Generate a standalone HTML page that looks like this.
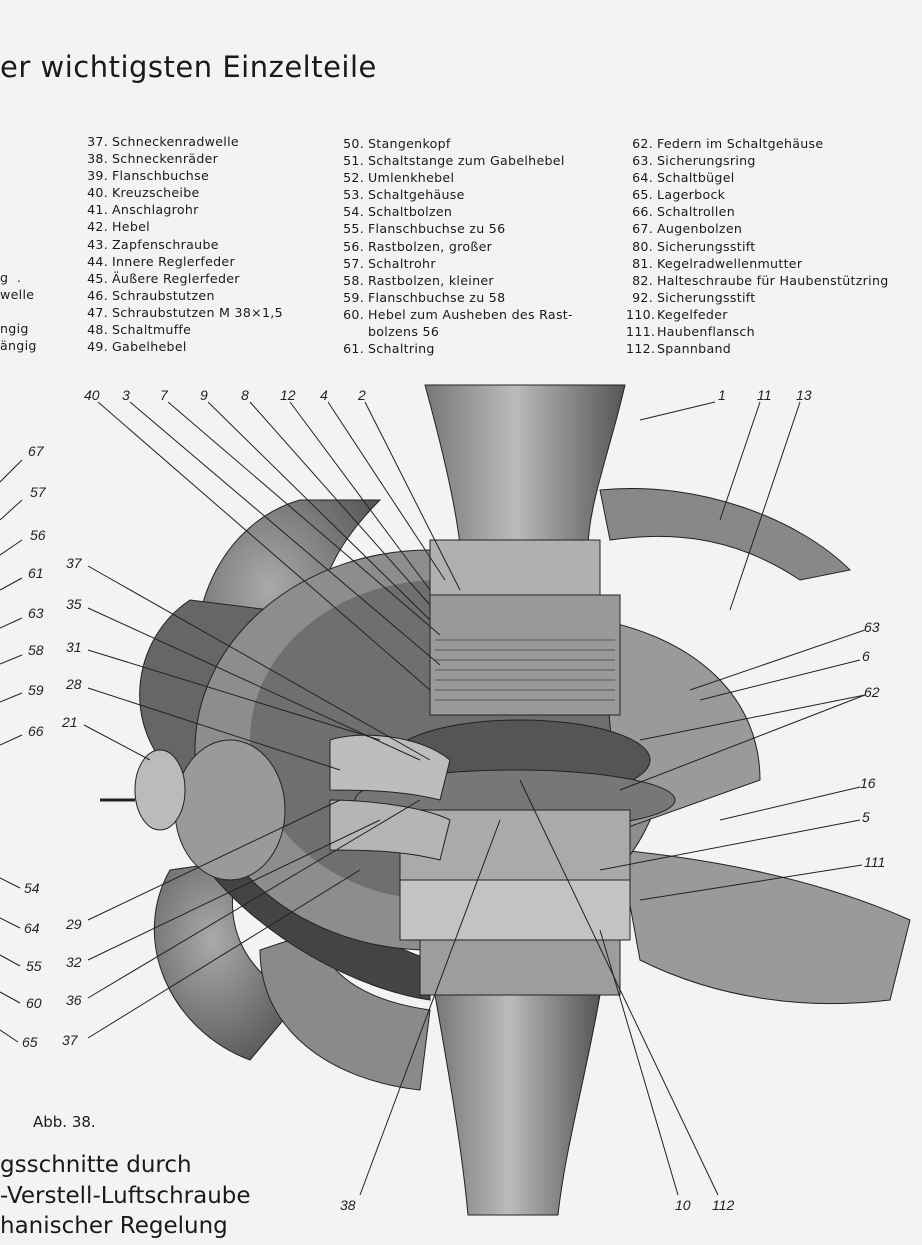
<!DOCTYPE html>
<html><head><meta charset="utf-8"><style>
body{margin:0;width:922px;height:1245px;background:#f3f3f1;overflow:hidden;position:relative;font-family:"DejaVu Sans","Liberation Sans",sans-serif;color:#1a1a1a}
.t{position:absolute;white-space:nowrap}
.col{position:absolute;font-size:12.6px;line-height:17.1px;letter-spacing:0.3px}
.col div{white-space:nowrap}
.n{display:inline-block;text-align:right;width:22px;margin-right:4px}
.c3 .n{width:27px}
svg{position:absolute;left:0;top:0}
.lb{font-family:"Liberation Sans",sans-serif;font-style:italic;font-size:14px;fill:#222}
</style></head><body>
<div class="t" style="left:0;top:50px;font-size:29px;letter-spacing:0.5px">er wichtigsten Einzelteile</div>

<div class="col" style="left:86px;top:133px">
<div><span class="n">37.</span>Schneckenradwelle</div>
<div><span class="n">38.</span>Schneckenräder</div>
<div><span class="n">39.</span>Flanschbuchse</div>
<div><span class="n">40.</span>Kreuzscheibe</div>
<div><span class="n">41.</span>Anschlagrohr</div>
<div><span class="n">42.</span>Hebel</div>
<div><span class="n">43.</span>Zapfenschraube</div>
<div><span class="n">44.</span>Innere Reglerfeder</div>
<div><span class="n">45.</span>Äußere Reglerfeder</div>
<div><span class="n">46.</span>Schraubstutzen</div>
<div><span class="n">47.</span>Schraubstutzen M 38×1,5</div>
<div><span class="n">48.</span>Schaltmuffe</div>
<div><span class="n">49.</span>Gabelhebel</div>
</div>
<div class="col" style="left:342px;top:135px">
<div><span class="n">50.</span>Stangenkopf</div>
<div><span class="n">51.</span>Schaltstange zum Gabelhebel</div>
<div><span class="n">52.</span>Umlenkhebel</div>
<div><span class="n">53.</span>Schaltgehäuse</div>
<div><span class="n">54.</span>Schaltbolzen</div>
<div><span class="n">55.</span>Flanschbuchse zu 56</div>
<div><span class="n">56.</span>Rastbolzen, großer</div>
<div><span class="n">57.</span>Schaltrohr</div>
<div><span class="n">58.</span>Rastbolzen, kleiner</div>
<div><span class="n">59.</span>Flanschbuchse zu 58</div>
<div><span class="n">60.</span>Hebel zum Ausheben des Rast-</div>
<div><span class="n"></span>bolzens 56</div>
<div><span class="n">61.</span>Schaltring</div>
</div>
<div class="col c3" style="left:626px;top:135px">
<div><span class="n">62.</span>Federn im Schaltgehäuse</div>
<div><span class="n">63.</span>Sicherungsring</div>
<div><span class="n">64.</span>Schaltbügel</div>
<div><span class="n">65.</span>Lagerbock</div>
<div><span class="n">66.</span>Schaltrollen</div>
<div><span class="n">67.</span>Augenbolzen</div>
<div><span class="n">80.</span>Sicherungsstift</div>
<div><span class="n">81.</span>Kegelradwellenmutter</div>
<div><span class="n">82.</span>Halteschraube für Haubenstützring</div>
<div><span class="n">92.</span>Sicherungsstift</div>
<div><span class="n">110.</span>Kegelfeder</div>
<div><span class="n">111.</span>Haubenflansch</div>
<div><span class="n">112.</span>Spannband</div>
</div>
<div class="col" style="left:0;top:269px">
<div>g&nbsp;&nbsp;.</div><div>welle</div><div>&nbsp;</div><div>ngig</div><div>ängig</div>
</div>

<svg width="922" height="1245" viewBox="0 0 922 1245">
<defs>
<linearGradient id="sh" x1="0" x2="1"><stop offset="0" stop-color="#777"/><stop offset="0.45" stop-color="#bbb"/><stop offset="1" stop-color="#555"/></linearGradient>
<radialGradient id="bl" cx="0.4" cy="0.4" r="0.7"><stop offset="0" stop-color="#aaa"/><stop offset="1" stop-color="#555"/></radialGradient>
</defs>
<path d="M300 500 C230 520 180 600 200 700 L330 720 C300 620 320 560 380 500 Z" fill="url(#bl)" stroke="#222"/>
<path d="M190 600 C130 640 120 730 180 780 L260 760 C220 700 230 650 270 610 Z" fill="#666" stroke="#222"/>
<path d="M170 870 C130 940 170 1030 250 1060 L300 1000 C240 970 220 920 240 860 Z" fill="url(#bl)" stroke="#222"/>
<path d="M260 950 C260 1030 330 1080 420 1090 L430 1010 C360 1000 320 970 320 930 Z" fill="#8a8a8a" stroke="#222"/>
<path d="M600 490 C700 480 800 520 850 570 L800 580 C740 540 680 530 610 540 Z" fill="#888" stroke="#222"/>
<path d="M620 850 C720 860 820 880 910 920 L890 1000 C810 1010 720 1000 640 960 Z" fill="#9a9a9a" stroke="#222"/>
<path d="M200 860 C260 940 360 990 430 1000 L430 960 C350 930 280 890 240 840 Z" fill="#444" stroke="#222"/>
<ellipse cx="430" cy="750" rx="235" ry="200" fill="#8d8d8d" stroke="#222"/>
<ellipse cx="440" cy="740" rx="190" ry="160" fill="#6f6f6f"/>
<path d="M600 620 C700 640 760 700 760 780 L620 830 Z" fill="#9a9a9a" stroke="#222"/>
<path d="M425 385 L625 385 C610 450 590 500 588 545 L460 545 C455 500 440 440 425 385 Z" fill="url(#sh)" stroke="#222"/>
<rect x="430" y="540" width="170" height="55" fill="#b0b0b0" stroke="#222"/>
<rect x="430" y="595" width="190" height="120" fill="#999" stroke="#222"/>
<g stroke="#555">
<line x1="435" y1="640" x2="615" y2="640"/><line x1="435" y1="650" x2="615" y2="650"/><line x1="435" y1="660" x2="615" y2="660"/><line x1="435" y1="670" x2="615" y2="670"/><line x1="435" y1="680" x2="615" y2="680"/><line x1="435" y1="690" x2="615" y2="690"/><line x1="435" y1="700" x2="615" y2="700"/></g>
<ellipse cx="520" cy="760" rx="130" ry="40" fill="#555" stroke="#222"/>
<ellipse cx="515" cy="800" rx="160" ry="30" fill="#777" stroke="#222"/>
<rect x="400" y="810" width="230" height="120" fill="#aaa" stroke="#222"/>
<rect x="400" y="880" width="230" height="60" fill="#c3c3c3" stroke="#222"/>
<path d="M330 740 C360 730 420 735 450 760 L440 800 C400 790 360 790 330 790 Z" fill="#bdbdbd" stroke="#222"/>
<path d="M330 800 C360 800 420 805 450 820 L440 860 C400 850 360 850 330 850 Z" fill="#b5b5b5" stroke="#222"/>
<ellipse cx="230" cy="810" rx="55" ry="70" fill="#9a9a9a" stroke="#222"/>
<ellipse cx="160" cy="790" rx="25" ry="40" fill="#bbb" stroke="#222"/>
<line x1="100" y1="800" x2="135" y2="800" stroke="#222" stroke-width="3"/>
<rect x="420" y="940" width="200" height="55" fill="#9d9d9d" stroke="#222"/>
<path d="M435 995 L600 995 C585 1080 565 1150 558 1215 L468 1215 C462 1150 450 1080 435 995 Z" fill="url(#sh)" stroke="#222"/>
<g stroke="#222" stroke-width="1" fill="none">
<line x1="98" y1="402" x2="430" y2="690"/><line x1="130" y1="402" x2="440" y2="665"/><line x1="168" y1="402" x2="440" y2="635"/><line x1="208" y1="402" x2="430" y2="620"/><line x1="250" y1="402" x2="430" y2="605"/><line x1="290" y1="402" x2="430" y2="590"/><line x1="328" y1="402" x2="445" y2="580"/><line x1="365" y1="402" x2="460" y2="590"/>
<line x1="715" y1="402" x2="640" y2="420"/><line x1="760" y1="402" x2="720" y2="520"/><line x1="800" y1="402" x2="730" y2="610"/>
<line x1="88" y1="566" x2="430" y2="760"/><line x1="88" y1="608" x2="420" y2="760"/><line x1="88" y1="650" x2="380" y2="740"/><line x1="88" y1="688" x2="340" y2="770"/><line x1="84" y1="725" x2="150" y2="760"/>
<line x1="88" y1="920" x2="340" y2="800"/><line x1="88" y1="960" x2="380" y2="820"/><line x1="88" y1="998" x2="420" y2="800"/><line x1="88" y1="1038" x2="360" y2="870"/>
<line x1="865" y1="630" x2="690" y2="690"/><line x1="860" y1="660" x2="700" y2="700"/><line x1="865" y1="695" x2="640" y2="740"/><line x1="865" y1="695" x2="620" y2="790"/>
<line x1="860" y1="787" x2="720" y2="820"/><line x1="860" y1="820" x2="600" y2="870"/><line x1="862" y1="865" x2="640" y2="900"/>
<line x1="360" y1="1195" x2="500" y2="820"/><line x1="678" y1="1195" x2="600" y2="930"/><line x1="718" y1="1195" x2="520" y2="780"/>
<line x1="0" y1="482" x2="22" y2="460"/><line x1="0" y1="520" x2="22" y2="500"/><line x1="0" y1="555" x2="22" y2="540"/><line x1="0" y1="590" x2="22" y2="578"/><line x1="0" y1="628" x2="22" y2="618"/><line x1="0" y1="664" x2="22" y2="655"/><line x1="0" y1="702" x2="22" y2="693"/><line x1="0" y1="745" x2="22" y2="735"/>
<line x1="0" y1="878" x2="20" y2="888"/><line x1="0" y1="918" x2="20" y2="928"/><line x1="0" y1="955" x2="20" y2="966"/><line x1="0" y1="992" x2="20" y2="1003"/><line x1="0" y1="1030" x2="18" y2="1042"/>
</g>
<g class="lb">
<text x="84" y="400">40</text><text x="122" y="400">3</text><text x="160" y="400">7</text><text x="200" y="400">9</text><text x="241" y="400">8</text><text x="280" y="400">12</text><text x="320" y="400">4</text><text x="358" y="400">2</text>
<text x="718" y="400">1</text><text x="757" y="400">11</text><text x="796" y="400">13</text>
<text x="28" y="456">67</text><text x="30" y="497">57</text><text x="30" y="540">56</text><text x="28" y="578">61</text><text x="28" y="618">63</text><text x="28" y="655">58</text><text x="28" y="695">59</text><text x="28" y="736">66</text>
<text x="24" y="893">54</text><text x="24" y="933">64</text><text x="26" y="971">55</text><text x="26" y="1008">60</text><text x="22" y="1047">65</text>
<text x="66" y="568">37</text><text x="66" y="609">35</text><text x="66" y="652">31</text><text x="66" y="689">28</text><text x="62" y="727">21</text>
<text x="66" y="929">29</text><text x="66" y="967">32</text><text x="66" y="1005">36</text><text x="62" y="1045">37</text>
<text x="864" y="632">63</text><text x="862" y="661">6</text><text x="864" y="697">62</text><text x="860" y="788">16</text><text x="862" y="822">5</text><text x="864" y="867">111</text>
<text x="340" y="1210">38</text><text x="675" y="1210">10</text><text x="712" y="1210">112</text>
</g>
</svg>
<div class="t" style="left:33px;top:1113px;font-size:15px">Abb. 38.</div>
<div class="t" style="left:0;top:1150px;font-size:23px;line-height:30.5px">gsschnitte durch<br>-Verstell-Luftschraube<br>hanischer Regelung</div>
</body></html>
